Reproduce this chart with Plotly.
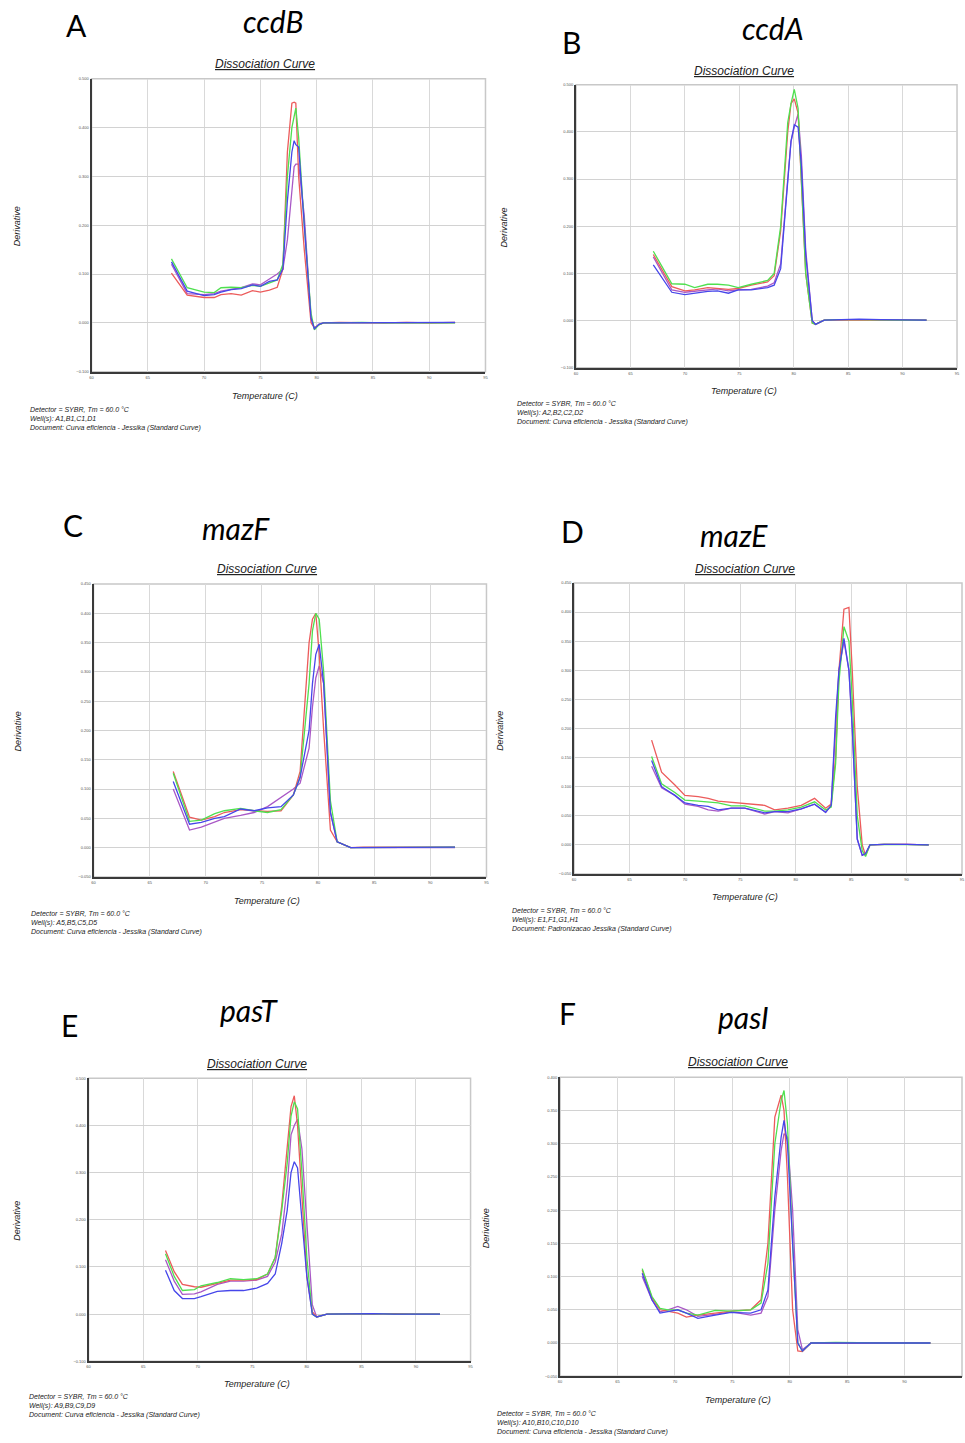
import plotly.graph_objects as go

# ---------------- data ----------------
# Panel A - ccdB
temp_A = [67.1, 68.5, 70.0, 70.9, 71.5, 72.4, 73.3, 74.3, 75.0, 75.8, 76.5, 77.0, 77.4, 77.8, 78.0, 78.15, 78.4, 78.9, 79.5, 79.8, 80.2, 80.6, 82, 84, 86, 88, 90, 92.3]
red_A = [0.102, 0.057, 0.052, 0.052, 0.058, 0.060, 0.057, 0.066, 0.063, 0.067, 0.073, 0.110, 0.350, 0.450, 0.452, 0.450, 0.300, 0.150, 0.000, -0.010, -0.004, 0.000, 0.001, 0.000, 0.000, 0.001, 0.000, 0.001]
green_A = [0.131, 0.072, 0.063, 0.062, 0.072, 0.073, 0.072, 0.077, 0.075, 0.082, 0.088, 0.120, 0.300, 0.400, 0.425, 0.440, 0.380, 0.200, 0.020, -0.014, -0.004, 0.000, 0.000, 0.001, 0.000, 0.000, 0.001, 0.000]
blue_A = [0.125, 0.065, 0.056, 0.058, 0.063, 0.068, 0.070, 0.078, 0.075, 0.085, 0.088, 0.110, 0.250, 0.350, 0.373, 0.365, 0.360, 0.200, 0.010, -0.012, -0.003, 0.000, 0.000, 0.000, 0.001, 0.000, 0.000, 0.001]
purple_A = [0.120, 0.060, 0.058, 0.060, 0.065, 0.068, 0.072, 0.080, 0.078, 0.090, 0.100, 0.110, 0.170, 0.270, 0.320, 0.325, 0.325, 0.220, 0.010, -0.012, -0.003, 0.000, 0.000, 0.000, 0.000, 0.001, 0.000, 0.000]

# Panel B - ccdA
temp_B = [67.1, 68.8, 70.0, 70.9, 72.1, 73.0, 74.0, 74.9, 76.1, 77.6, 78.2, 78.8, 79.45, 79.75, 80.05, 80.4, 80.7, 81.1, 81.7, 82.0, 82.8, 84, 86, 88, 90, 92.2]
green_B = [0.147, 0.078, 0.077, 0.070, 0.077, 0.077, 0.075, 0.070, 0.077, 0.085, 0.100, 0.200, 0.420, 0.460, 0.490, 0.450, 0.300, 0.100, -0.005, -0.008, 0.001, 0.002, 0.002, 0.001, 0.001, 0.001]
red_B = [0.140, 0.072, 0.063, 0.065, 0.070, 0.068, 0.066, 0.068, 0.075, 0.082, 0.095, 0.190, 0.400, 0.460, 0.470, 0.440, 0.300, 0.100, -0.005, -0.008, 0.001, 0.001, 0.002, 0.001, 0.001, 0.001]
purple_B = [0.135, 0.065, 0.060, 0.062, 0.065, 0.067, 0.063, 0.065, 0.066, 0.073, 0.080, 0.120, 0.300, 0.380, 0.410, 0.438, 0.350, 0.150, 0.000, -0.008, 0.001, 0.002, 0.002, 0.002, 0.001, 0.001]
blue_B = [0.118, 0.060, 0.055, 0.058, 0.062, 0.063, 0.058, 0.065, 0.065, 0.070, 0.075, 0.110, 0.300, 0.380, 0.415, 0.410, 0.330, 0.140, 0.000, -0.008, 0.001, 0.002, 0.003, 0.002, 0.001, 0.001]

# Panel C - mazF
temp_C = [67.1, 68.55, 69.6, 70.8, 71.65, 73.1, 74.3, 75.5, 76.7, 77.8, 78.4, 79.2, 79.5, 79.8, 80.1, 80.5, 81.1, 81.7, 82.9, 84, 86, 88, 90, 92.2]
red_C = [0.130, 0.052, 0.047, 0.053, 0.060, 0.065, 0.063, 0.062, 0.063, 0.090, 0.130, 0.350, 0.390, 0.400, 0.330, 0.200, 0.030, 0.010, 0.000, 0.001, 0.001, 0.001, 0.000, 0.001]
green_C = [0.127, 0.045, 0.047, 0.058, 0.063, 0.067, 0.063, 0.060, 0.065, 0.090, 0.120, 0.280, 0.370, 0.400, 0.390, 0.300, 0.080, 0.010, 0.000, 0.000, 0.001, 0.000, 0.000, 0.001]
blue_C = [0.113, 0.040, 0.043, 0.050, 0.053, 0.066, 0.063, 0.068, 0.070, 0.090, 0.120, 0.200, 0.280, 0.330, 0.347, 0.280, 0.060, 0.010, 0.000, 0.000, 0.000, 0.001, 0.000, 0.001]
purple_C = [0.100, 0.030, 0.035, 0.043, 0.050, 0.055, 0.060, 0.070, 0.085, 0.100, 0.110, 0.170, 0.240, 0.290, 0.310, 0.280, 0.060, 0.010, 0.000, 0.000, 0.001, 0.000, 0.000, 0.000]

# Panel D - mazE
temp_D = [67.0, 67.9, 69.1, 70.0, 71.2, 72.1, 73.0, 74.2, 75.4, 77.2, 78.1, 79.3, 80.5, 81.7, 82.7, 83.2, 83.6, 83.9, 84.35, 84.8, 85.1, 85.55, 86.0, 86.3, 86.7, 88, 90, 92.0]
red_D = [0.180, 0.125, 0.103, 0.085, 0.083, 0.080, 0.075, 0.073, 0.070, 0.068, 0.060, 0.063, 0.068, 0.080, 0.063, 0.070, 0.150, 0.300, 0.405, 0.408, 0.300, 0.100, 0.000, -0.018, 0.000, 0.001, 0.001, 0.000]
green_D = [0.152, 0.105, 0.090, 0.077, 0.075, 0.074, 0.072, 0.067, 0.067, 0.058, 0.058, 0.060, 0.065, 0.074, 0.060, 0.065, 0.140, 0.280, 0.375, 0.350, 0.250, 0.050, -0.010, -0.020, 0.000, 0.001, 0.001, 0.000]
blue_D = [0.145, 0.100, 0.085, 0.072, 0.068, 0.066, 0.060, 0.063, 0.063, 0.055, 0.057, 0.057, 0.062, 0.070, 0.056, 0.068, 0.220, 0.300, 0.355, 0.300, 0.200, 0.010, -0.018, -0.015, 0.000, 0.001, 0.001, 0.000]
purple_D = [0.135, 0.098, 0.085, 0.070, 0.066, 0.060, 0.058, 0.063, 0.063, 0.053, 0.057, 0.055, 0.062, 0.070, 0.056, 0.068, 0.200, 0.300, 0.350, 0.300, 0.200, 0.010, -0.018, -0.015, 0.000, 0.001, 0.001, 0.000]

# Panel E - pasT
temp_E = [67.05, 67.85, 68.6, 69.7, 70.3, 71.8, 73.0, 74.2, 75.4, 76.4, 77.1, 77.7, 78.2, 78.55, 78.85, 79.15, 79.55, 80.0, 80.5, 80.9, 81.85, 84, 86, 88, 90, 92.2]
red_E = [0.135, 0.090, 0.063, 0.058, 0.057, 0.065, 0.072, 0.072, 0.073, 0.085, 0.120, 0.230, 0.350, 0.440, 0.463, 0.400, 0.250, 0.080, 0.005, -0.006, 0.000, 0.001, 0.000, 0.001, 0.000, 0.000]
green_E = [0.128, 0.080, 0.050, 0.052, 0.060, 0.067, 0.075, 0.073, 0.075, 0.085, 0.120, 0.220, 0.320, 0.420, 0.450, 0.435, 0.300, 0.120, 0.000, -0.006, 0.000, 0.001, 0.001, 0.000, 0.000, 0.000]
purple_E = [0.115, 0.070, 0.042, 0.043, 0.047, 0.063, 0.070, 0.070, 0.072, 0.080, 0.110, 0.170, 0.270, 0.380, 0.400, 0.413, 0.350, 0.200, 0.020, -0.006, 0.000, 0.000, 0.001, 0.000, 0.000, 0.000]
blue_E = [0.093, 0.050, 0.033, 0.033, 0.037, 0.048, 0.050, 0.050, 0.055, 0.065, 0.085, 0.150, 0.220, 0.300, 0.323, 0.310, 0.200, 0.080, 0.000, -0.006, 0.000, 0.001, 0.001, 0.000, 0.000, 0.000]

# Panel F - pasI
temp_F = [67.15, 68.0, 68.7, 69.4, 70.25, 71.0, 72.0, 73.5, 74.9, 76.6, 77.5, 78.1, 78.7, 79.25, 79.5, 79.8, 80.25, 80.7, 81.1, 81.85, 84, 86, 88, 90, 92.25]
green_F = [0.112, 0.070, 0.052, 0.050, 0.050, 0.045, 0.042, 0.049, 0.048, 0.050, 0.060, 0.120, 0.300, 0.365, 0.380, 0.330, 0.150, 0.000, -0.012, 0.000, 0.001, 0.000, 0.000, 0.000, 0.000]
red_F = [0.110, 0.068, 0.050, 0.048, 0.045, 0.039, 0.042, 0.045, 0.048, 0.050, 0.065, 0.150, 0.340, 0.373, 0.350, 0.250, 0.050, -0.012, -0.013, 0.000, 0.000, 0.001, 0.000, 0.000, 0.000]
blue_F = [0.105, 0.065, 0.045, 0.047, 0.050, 0.045, 0.037, 0.042, 0.046, 0.045, 0.050, 0.080, 0.220, 0.310, 0.335, 0.300, 0.150, 0.000, -0.012, 0.000, 0.000, 0.000, 0.001, 0.000, 0.000]
purple_F = [0.100, 0.065, 0.047, 0.050, 0.055, 0.050, 0.040, 0.043, 0.047, 0.042, 0.045, 0.070, 0.200, 0.290, 0.315, 0.310, 0.200, 0.020, -0.010, 0.000, 0.000, 0.000, 0.000, 0.000, 0.000]

panel_letters = ["A", "B", "C", "D", "E", "F"]
gene_names = ["ccdB", "ccdA", "mazF", "mazE", "pasT", "pasI"]
wells = ["A1,B1,C1,D1", "A2,B2,C2,D2", "A5,B5,C5,D5", "E1,F1,G1,H1", "A9,B9,C9,D9", "A10,B10,C10,D10"]
documents = ["Curva eficiencia - Jessika (Standard Curve)"] * 3 + ["Padronizacao Jessika (Standard Curve)"] + ["Curva eficiencia - Jessika (Standard Curve)"] * 2
y_ranges = [(-0.1, 0.5, 0.1), (-0.1, 0.5, 0.1), (-0.05, 0.45, 0.05), (-0.05, 0.45, 0.05), (-0.1, 0.5, 0.1), (-0.05, 0.4, 0.05)]

series = [
    (temp_A, {"purple": purple_A, "red": red_A, "green": green_A, "blue": blue_A}),
    (temp_B, {"purple": purple_B, "red": red_B, "green": green_B, "blue": blue_B}),
    (temp_C, {"purple": purple_C, "red": red_C, "green": green_C, "blue": blue_C}),
    (temp_D, {"purple": purple_D, "red": red_D, "green": green_D, "blue": blue_D}),
    (temp_E, {"purple": purple_E, "red": red_E, "green": green_E, "blue": blue_E}),
    (temp_F, {"purple": purple_F, "red": red_F, "green": green_F, "blue": blue_F}),
]

# ---------------- layout geometry (pixels) ----------------
W, H = 965, 1443
def px(x): return x / W
def py(y): return 1 - y / H

# plot frames: (left, right, top, bottom)
frames = [(90, 486, 76, 370), (577, 960, 82, 366), (92, 487, 583, 877),
          (575, 965, 582, 874), (87, 471, 1079, 1363), (561, 965, 1078, 1378)]
letter_pos = [(75, 22), (572, 39), (71, 524), (573, 530), (68, 1026), (568, 1014)]
gene_pos = [(273, 18), (775, 25), (235, 527), (736, 534), (248, 1011), (745, 1018)]
title_pos = [(264, 61), (746, 68), (266, 568), (747, 568), (256, 1065), (740, 1063)]
xlab_pos = [(264, 394), (746, 389), (266, 901), (747, 897), (256, 1386), (740, 1402)]
ylab_pos = [(15, 224), (505, 225), (17, 731), (501, 730), (15, 1222), (486, 1229)]
foot_pos = [(26, 402), (516, 396), (27, 908), (511, 905), (25, 1393), (496, 1410)]

colors = {"red": "#ec5b5b", "green": "#4fe04f", "blue": "#4646ea", "purple": "#a958c6"}

fig = go.Figure()
annotations = []
shapes = []
txt_font = "Liberation Sans, Arial, sans-serif"
big_font = "Lato, Open Sans, sans-serif"

for i in range(6):
    n = "" if i == 0 else str(i + 1)
    xa, ya = "x" + n, "y" + n
    temps, curves = series[i]
    for cname, vals in curves.items():
        fig.add_trace(go.Scatter(x=temps, y=vals, mode="lines", xaxis=xa, yaxis=ya,
                                 line=dict(color=colors[cname], width=1.3),
                                 showlegend=False, hoverinfo="skip"))
    l, r, t, b = frames[i]
    y0, y1, dy = y_ranges[i]
    fig.layout["xaxis" + n] = dict(domain=[px(l), px(r)], range=[60, 95], dtick=5, tick0=60,
                                   anchor=ya, showgrid=True, gridcolor="#d9d9d9", gridwidth=1,
                                   zeroline=False, showline=True, linecolor="#3a3a3a", linewidth=2,
                                   ticks="", tickfont=dict(size=4, color="#555", family=txt_font),
                                   fixedrange=True)
    fig.layout["yaxis" + n] = dict(domain=[py(b), py(t)], range=[y0, y1], dtick=dy, tick0=y0,
                                   anchor=xa, showgrid=True, gridcolor="#d2d2d2", gridwidth=1.3,
                                   zeroline=False, showline=True, linecolor="#3a3a3a", linewidth=2,
                                   ticks="", tickformat=".3f",
                                   tickfont=dict(size=4, color="#555", family=txt_font),
                                   fixedrange=True)
    shapes.append(dict(type="rect", xref=xa + " domain", yref=ya + " domain", x0=0, x1=1, y0=0, y1=1,
                       line=dict(color="#c8c8c8", width=1.5), layer="below"))

    lx, ly = letter_pos[i]
    annotations.append(dict(text=panel_letters[i], x=px(lx), y=py(ly), xref="paper", yref="paper",
                            showarrow=False, xanchor="center", yanchor="middle",
                            font=dict(size=30, family=big_font, color="#000")))
    gx, gy = gene_pos[i]
    annotations.append(dict(text="<i>" + gene_names[i] + "</i>", x=px(gx), y=py(gy), xref="paper", yref="paper",
                            showarrow=False, xanchor="center", yanchor="middle",
                            font=dict(size=30, family=big_font, color="#000")))
    tx, ty = title_pos[i]
    annotations.append(dict(text="<i><u>Dissociation Curve</u></i>", x=px(tx), y=py(ty), xref="paper", yref="paper",
                            showarrow=False, xanchor="center", yanchor="middle",
                            font=dict(size=12, family=txt_font, color="#222")))
    xx, xy = xlab_pos[i]
    annotations.append(dict(text="<i>Temperature (C)</i>", x=px(xx), y=py(xy), xref="paper", yref="paper",
                            showarrow=False, xanchor="center", yanchor="middle",
                            font=dict(size=9, family=txt_font, color="#222")))
    yx, yy = ylab_pos[i]
    annotations.append(dict(text="<i>Derivative</i>", x=px(yx), y=py(yy), xref="paper", yref="paper",
                            showarrow=False, xanchor="center", yanchor="middle", textangle=-90,
                            font=dict(size=9, family=txt_font, color="#222")))
    fx, fy = foot_pos[i]
    foot = ("<i>Detector = SYBR, Tm = 60.0 °C<br>Well(s): " + wells[i] +
            "<br>Document: " + documents[i] + "</i>")
    annotations.append(dict(text=foot, x=px(fx), y=py(fy), xref="paper", yref="paper",
                            showarrow=False, xanchor="left", yanchor="top", align="left",
                            font=dict(size=7, family=txt_font, color="#222")))

fig.update_layout(width=W, height=H, margin=dict(l=0, r=0, t=0, b=0),
                  paper_bgcolor="white", plot_bgcolor="white",
                  annotations=annotations, shapes=shapes, showlegend=False)

fig.write_html("out.html")
